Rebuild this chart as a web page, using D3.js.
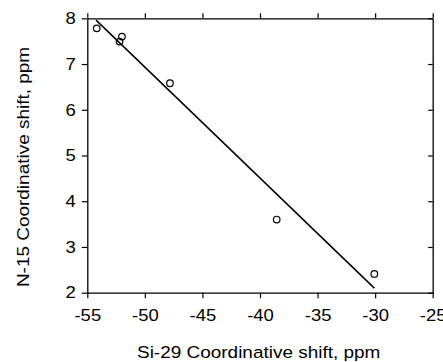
<!DOCTYPE html>
<html>
<head>
<meta charset="utf-8">
<script src="https://cdn.jsdelivr.net/npm/d3@7"></script>
<style>
  body { margin: 0; background: #fff; }
  svg { display: block; font-family: "Liberation Sans", Arial, sans-serif; }
</style>
</head>
<body>
<div class="chart"></div>
<script>
// data
var siShift = [-54.18, -52.2, -51.99, -47.82, -38.55, -30.07];
var nShift  = [7.78, 7.49, 7.6, 6.58, 3.6, 2.41];
// fitted line end points
var fitX = [-54.24, -30.07];
var fitY = [7.96, 2.1];
var xTicks = [-55, -50, -45, -40, -35, -30, -25];
var yTicks = [2, 3, 4, 5, 6, 7, 8];

var svgWidth = 443, svgHeight = 362;
var margin = {top: 18.3, right: 10.3, bottom: 69.3, left: 87.3};
var chart_width = svgWidth - margin.left - margin.right,
    chart_height = svgHeight - margin.top - margin.bottom;

// the original lettering is a bit wider than Liberation Sans, so stretch it
var stretch = 1.12;

var svg = d3.select(".chart")
  .append("svg")
    .attr("width", svgWidth)
    .attr("height", svgHeight)
  .append("g")
    .attr("transform", "translate(" + margin.left + "," + margin.top + ")");

var x = d3.scaleLinear().domain([-55, -25]).range([0, chart_width]);
var y = d3.scaleLinear().domain([2, 8]).range([chart_height, 0]);

var fmt = function(d){ return String(d); };   // plain hyphen minus

function styleAxis(g) {
  g.select(".domain").attr("stroke", "#000").attr("stroke-width", 1.3);
  g.selectAll(".tick line").attr("stroke", "#000").attr("stroke-width", 1.2);
  g.selectAll(".tick text").attr("fill", "#000").style("font-size", "16.5px");
}

// bottom
svg.append("g")
  .attr("transform", "translate(0," + chart_height + ")")
  .call(d3.axisBottom(x).tickValues(xTicks).tickFormat(fmt).tickSize(5.5).tickPadding(11.5).tickSizeOuter(0))
  .call(styleAxis)
  .selectAll(".tick text")
    .attr("transform", "scale(" + stretch + ",1)");

// top, ticks outward, no labels
svg.append("g")
  .call(d3.axisTop(x).tickValues(xTicks).tickSize(5).tickFormat("").tickSizeOuter(0))
  .call(styleAxis);

// left
svg.append("g")
  .call(d3.axisLeft(y).tickValues(yTicks).tickFormat(fmt).tickSize(5.5).tickPadding(6).tickSizeOuter(0))
  .call(styleAxis)
  .selectAll(".tick text")
    .attr("x", -11.5 / stretch)
    .attr("transform", "scale(" + stretch + ",1)");

// right, ticks inward
svg.append("g")
  .attr("transform", "translate(" + chart_width + ",0)")
  .call(d3.axisLeft(y).tickValues(yTicks).tickSize(4.5).tickFormat("").tickSizeOuter(0))
  .call(styleAxis);

// fit line
var line = d3.line()
  .x(function(d){ return x(d[0]); })
  .y(function(d){ return y(d[1]); });

svg.append("path")
  .datum(d3.zip(fitX, fitY))
  .attr("d", line)
  .attr("fill", "none")
  .attr("stroke", "#000")
  .attr("stroke-width", 1.5);

// points
svg.selectAll(".pt")
  .data(d3.zip(siShift, nShift))
  .enter()
  .append("circle")
    .attr("class", "pt")
    .attr("cx", function(d){ return x(d[0]); })
    .attr("cy", function(d){ return y(d[1]); })
    .attr("r", 3.3)
    .attr("fill", "none")
    .attr("stroke", "#000")
    .attr("stroke-width", 1.2);

// axis titles
svg.append("g")
  .attr("transform", "translate(" + (258.7 - margin.left) + "," + (358 - margin.top) + ")")
  .append("text")
    .attr("text-anchor", "middle")
    .attr("transform", "scale(1.15,1)")
    .style("font-size", "16.5px")
    .text("Si-29 Coordinative shift, ppm");

svg.append("g")
  .attr("transform", "translate(" + (28.5 - margin.left) + "," + (167 - margin.top) + ") rotate(-90)")
  .append("text")
    .attr("text-anchor", "middle")
    .attr("transform", "scale(1.15,1)")
    .style("font-size", "16.5px")
    .text("N-15 Coordinative shift, ppm");
</script>
</body>
</html>
